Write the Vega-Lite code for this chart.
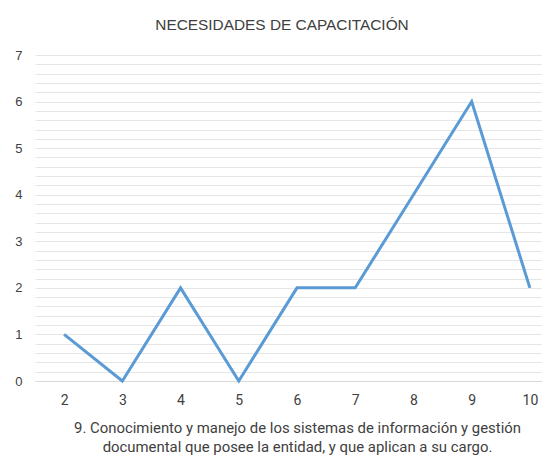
{
  "$schema": "https://vega.github.io/schema/vega-lite/v6.json",
  "autosize": {"type": "none"},
  "padding": {"left": 35, "top": 55, "right": 0, "bottom": 76},
  "width": 524,
  "height": 326,
  "background": "white",
  "title": {
    "text": "NECESIDADES DE CAPACITACIÓN",
    "font": "Liberation Sans",
    "fontSize": 15.4,
    "fontWeight": "normal",
    "color": "#404040",
    "anchor": "middle",
    "dx": -15,
    "offset": 16
  },
  "data": {
    "values": [
      {"nivel": "2", "cantidad": 1},
      {"nivel": "3", "cantidad": 0},
      {"nivel": "4", "cantidad": 2},
      {"nivel": "5", "cantidad": 0},
      {"nivel": "6", "cantidad": 2},
      {"nivel": "7", "cantidad": 2},
      {"nivel": "8", "cantidad": 4},
      {"nivel": "9", "cantidad": 6},
      {"nivel": "10", "cantidad": 2}
    ]
  },
  "mark": {"type": "line", "color": "#5B9BD5", "strokeWidth": 3, "strokeJoin": "miter", "strokeCap": "butt"},
  "encoding": {
    "x": {
      "field": "nivel",
      "type": "ordinal",
      "sort": null,
      "scale": {"type": "point", "padding": 0.5},
      "axis": {
        "title": ["9. Conocimiento y manejo de los sistemas de información y gestión", "documental que posee la entidad, y que aplican a su cargo."],
        "titleFont": "Roboto",
        "titleFontSize": 14.9,
        "titleFontWeight": "normal",
        "titleColor": "#404040",
        "titleLineHeight": 19,
        "titlePadding": 13,
        "labelAngle": 0,
        "labelFont": "Roboto",
        "labelFontSize": 14,
        "labelColor": "#404040",
        "labelPadding": 12,
        "ticks": false,
        "domainColor": "#d9d9d9",
        "domainWidth": 1,
        "grid": false
      }
    },
    "y": {
      "field": "cantidad",
      "type": "quantitative",
      "scale": {"domain": [0, 7], "nice": false},
      "axis": {
        "title": null,
        "values": [0, 0.2, 0.4, 0.6, 0.8, 1, 1.2, 1.4, 1.6, 1.8, 2, 2.2, 2.4, 2.6, 2.8, 3, 3.2, 3.4, 3.6, 3.8, 4, 4.2, 4.4, 4.6, 4.8, 5, 5.2, 5.4, 5.6, 5.8, 6, 6.2, 6.4, 6.6, 6.8, 7],
        "labelExpr": "datum.value % 1 === 0 ? format(datum.value, 'd') : ''",
        "labelFont": "Liberation Sans",
        "labelFontSize": 13,
        "labelColor": "#404040",
        "labelPadding": 13,
        "ticks": false,
        "domain": false,
        "grid": true,
        "gridColor": "#e6e6e6",
        "gridWidth": 1
      }
    }
  },
  "config": {
    "view": {"stroke": null}
  }
}
